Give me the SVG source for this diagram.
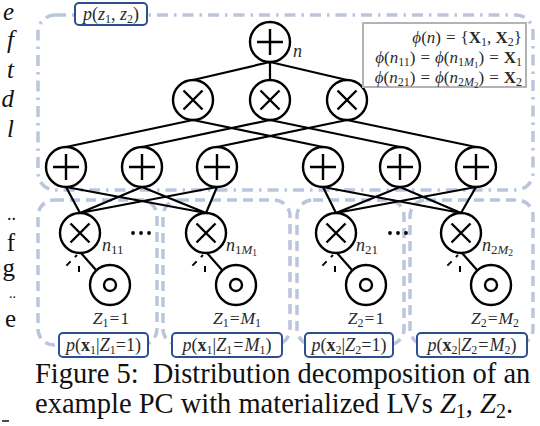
<svg xmlns="http://www.w3.org/2000/svg" width="540" height="426" viewBox="0 0 540 426">
<style>
.reg{fill:none;stroke:#b9c6dd;stroke-width:3.5;stroke-dasharray:10 6}
.regt{fill:none;stroke:#b9c6dd;stroke-width:3.5;stroke-dasharray:11 6 2.5 6}
.nd{fill:#fff;stroke:#000;stroke-width:2.4}
.op{stroke:#000;stroke-width:2.4;fill:none}
.e{stroke:#000;stroke-width:2.2;fill:none}
.stub{stroke:#000;stroke-width:2;fill:none}
.lb{fill:#fff;stroke:#2d4f8e;stroke-width:2}
.m{font-family:"Liberation Serif","DejaVu Serif",serif;fill:#2a2a2a}
.cap{font-family:"Liberation Serif","DejaVu Serif",serif;font-size:28.5px;fill:#111}
.mg{font-family:"Liberation Serif","DejaVu Serif",serif;font-size:25px;fill:#111}
</style>
<defs>
<g id="plus"><circle class="nd" r="20"/><path class="op" d="M-13 0H13M0-13V13"/></g>
<g id="times"><circle class="nd" r="20"/><path class="op" d="M-9.5-9.5L9.5 9.5M9.5-9.5L-9.5 9.5"/></g>
<g id="leaf"><circle class="nd" r="20"/><circle class="nd" r="6" stroke-width="1.8"/></g>
</defs>

<!-- left margin fragments -->
<g id="margin" class="mg">
<text x="14" y="20" text-anchor="end" font-style="italic">e</text>
<text x="14" y="48" text-anchor="end" font-style="italic">f</text>
<text x="14" y="78" text-anchor="end" font-style="italic">t</text>
<text x="14" y="107" text-anchor="end" font-style="italic">d</text>
<text x="14" y="137" text-anchor="end" font-style="italic">l</text>
<text x="16" y="220" text-anchor="end" font-size="18">..</text>
<text x="15" y="251" text-anchor="end">f</text>
<text x="15" y="276" text-anchor="end">g</text>
<text x="16" y="298" text-anchor="end" font-size="14">..</text>
<text x="16" y="327" text-anchor="end">e</text>
<path d="M2 421H9" stroke="#111" stroke-width="1.5"/>
</g>

<!-- regions -->
<g id="regions">
<rect class="regt" x="38" y="15" width="495" height="175" rx="17"/>
<rect class="reg" x="38" y="200" width="119" height="145" rx="16"/>
<rect class="reg" x="163" y="200" width="127" height="145" rx="16"/>
<rect class="reg" x="297" y="200" width="107" height="145" rx="16"/>
<rect class="reg" x="410" y="200" width="123" height="145" rx="16"/>
</g>

<!-- connectors -->
<g id="connectors">
<path class="e" d="M270 62L193 80M270 62L270 80M270 62L347 80"/>
<path class="e" d="M193 120L66 147M193 120L323 147M270 120L142 147M270 120L400 147M347 120L217 147M347 120L476 147"/>
<path class="e" d="M66 187L80 213M66 187L206 213M142 187L80 213M142 187L206 213M217 187L80 213M217 187L206 213"/>
<path class="e" d="M323 187L336 213M323 187L461 213M400 187L336 213M400 187L461 213M476 187L336 213M476 187L461 213"/>
<path class="e" d="M96 270L81 253M222 270L207 253M352 270L337 253M477 270L462 253"/>
<g class="stub">
<path d="M77 255L62 270" stroke-dasharray="3 6 6 20"/><path d="M79 255V272" stroke-dasharray="0 11 6 20"/>
<path d="M203 255L188 270" stroke-dasharray="3 6 6 20"/><path d="M205 255V272" stroke-dasharray="0 11 6 20"/>
<path d="M333 255L318 270" stroke-dasharray="3 6 6 20"/><path d="M335 255V272" stroke-dasharray="0 11 6 20"/>
<path d="M458 255L443 270" stroke-dasharray="3 6 6 20"/><path d="M460 255V272" stroke-dasharray="0 11 6 20"/>
</g>
</g>

<!-- nodes -->
<g id="n_root"><use href="#plus" x="270" y="42"/><text class="m" x="293" y="57" font-size="18" font-style="italic" fill="#444">n</text></g>
<g id="p1"><use href="#times" x="193" y="100"/></g>
<g id="p2"><use href="#times" x="270" y="100"/></g>
<g id="p3"><use href="#times" x="347" y="100"/></g>
<g id="s1"><use href="#plus" x="66" y="167"/></g>
<g id="s2"><use href="#plus" x="142" y="167"/></g>
<g id="s3"><use href="#plus" x="217" y="167"/></g>
<g id="s4"><use href="#plus" x="323" y="167"/></g>
<g id="s5"><use href="#plus" x="400" y="167"/></g>
<g id="s6"><use href="#plus" x="476" y="167"/></g>
<g id="n11"><use href="#times" x="80" y="233"/><text class="m" x="102" y="251" font-size="18" fill="#444"><tspan font-style="italic">n</tspan><tspan font-size="13" dy="3">11</tspan></text></g>
<g id="n1M1"><use href="#times" x="206" y="233"/><text class="m" x="226" y="251" font-size="18" fill="#444"><tspan font-style="italic">n</tspan><tspan font-size="13" dy="3">1</tspan><tspan font-size="13" font-style="italic">M</tspan><tspan font-size="9.5" dy="2">1</tspan></text></g>
<g id="n21"><use href="#times" x="336" y="233"/><text class="m" x="356" y="251" font-size="18" fill="#444"><tspan font-style="italic">n</tspan><tspan font-size="13" dy="3">21</tspan></text></g>
<g id="n2M2"><use href="#times" x="461" y="233"/><text class="m" x="482" y="251" font-size="18" fill="#444"><tspan font-style="italic">n</tspan><tspan font-size="13" dy="3">2</tspan><tspan font-size="13" font-style="italic">M</tspan><tspan font-size="9.5" dy="2">2</tspan></text></g>
<g id="dots1" fill="#000"><circle cx="133" cy="233" r="1.9"/><circle cx="141" cy="233" r="1.9"/><circle cx="149" cy="233" r="1.9"/></g>
<g id="dots2" fill="#000"><circle cx="390" cy="233" r="1.9"/><circle cx="398" cy="233" r="1.9"/><circle cx="406" cy="233" r="1.9"/></g>
<g id="leaf1"><use href="#leaf" x="110" y="285"/><text class="m" x="111" y="324" font-size="17.5" text-anchor="middle" fill="#555"><tspan font-style="italic">Z</tspan><tspan font-size="12" dy="3">1</tspan><tspan dy="-3" dx="1">=</tspan><tspan dx="1">1</tspan></text></g>
<g id="leaf2"><use href="#leaf" x="236" y="285"/><text class="m" x="237" y="324" font-size="17.5" text-anchor="middle" fill="#555"><tspan font-style="italic">Z</tspan><tspan font-size="12" dy="3">1</tspan><tspan dy="-3" dx="1">=</tspan><tspan font-style="italic" dx="1">M</tspan><tspan font-size="12" dy="3">1</tspan></text></g>
<g id="leaf3"><use href="#leaf" x="366" y="285"/><text class="m" x="366" y="324" font-size="17.5" text-anchor="middle" fill="#555"><tspan font-style="italic">Z</tspan><tspan font-size="12" dy="3">2</tspan><tspan dy="-3" dx="1">=</tspan><tspan dx="1">1</tspan></text></g>
<g id="leaf4"><use href="#leaf" x="491" y="285"/><text class="m" x="495" y="324" font-size="17.5" text-anchor="middle" fill="#555"><tspan font-style="italic">Z</tspan><tspan font-size="12" dy="3">2</tspan><tspan dy="-3" dx="1">=</tspan><tspan font-style="italic" dx="1">M</tspan><tspan font-size="12" dy="3">2</tspan></text></g>

<!-- labels -->
<g id="lab_top"><rect class="lb" x="75" y="3" width="72" height="22" rx="4"/><text class="m" x="111" y="19.5" font-size="18" text-anchor="middle"><tspan font-style="italic">p</tspan>(<tspan font-style="italic">z</tspan><tspan font-size="12" dy="3">1</tspan><tspan dy="-3">, </tspan><tspan font-style="italic">z</tspan><tspan font-size="12" dy="3">2</tspan><tspan dy="-3">)</tspan></text></g>
<g id="lab1"><rect class="lb" x="59" y="333" width="89" height="24" rx="4"/><text class="m" x="103.5" y="351" font-size="18" text-anchor="middle"><tspan font-style="italic">p</tspan>(<tspan font-weight="bold">x</tspan><tspan font-size="12" dy="3">1</tspan><tspan dy="-3">|</tspan><tspan font-style="italic">Z</tspan><tspan font-size="12" dy="3">1</tspan><tspan dy="-3">=1)</tspan></text></g>
<g id="lab2"><rect class="lb" x="172" y="333" width="110" height="24" rx="4"/><text class="m" x="227" y="351" font-size="18" text-anchor="middle"><tspan font-style="italic">p</tspan>(<tspan font-weight="bold">x</tspan><tspan font-size="12" dy="3">1</tspan><tspan dy="-3">|</tspan><tspan font-style="italic">Z</tspan><tspan font-size="12" dy="3">1</tspan><tspan dy="-3" dx="1">=</tspan><tspan font-style="italic" dx="1">M</tspan><tspan font-size="12" dy="3">1</tspan><tspan dy="-3">)</tspan></text></g>
<g id="lab3"><rect class="lb" x="305" y="333" width="88" height="24" rx="4"/><text class="m" x="349" y="351" font-size="18" text-anchor="middle"><tspan font-style="italic">p</tspan>(<tspan font-weight="bold">x</tspan><tspan font-size="12" dy="3">2</tspan><tspan dy="-3">|</tspan><tspan font-style="italic">Z</tspan><tspan font-size="12" dy="3">2</tspan><tspan dy="-3">=1)</tspan></text></g>
<g id="lab4"><rect class="lb" x="417" y="333" width="110" height="24" rx="4"/><text class="m" x="472" y="351" font-size="18" text-anchor="middle"><tspan font-style="italic">p</tspan>(<tspan font-weight="bold">x</tspan><tspan font-size="12" dy="3">2</tspan><tspan dy="-3">|</tspan><tspan font-style="italic">Z</tspan><tspan font-size="12" dy="3">2</tspan><tspan dy="-3" dx="1">=</tspan><tspan font-style="italic" dx="1">M</tspan><tspan font-size="12" dy="3">2</tspan><tspan dy="-3">)</tspan></text></g>

<!-- phi legend -->
<g id="legend">
<rect x="363" y="23" width="163" height="64" fill="#fff" stroke="#b3b3b3" stroke-width="2"/>
<text class="m" x="522" y="43" font-size="17" text-anchor="end" fill="#222"><tspan font-style="italic">ϕ</tspan>(<tspan font-style="italic">n</tspan>)<tspan dx="5">=</tspan><tspan dx="5">{</tspan><tspan font-weight="bold">X</tspan><tspan font-size="12" dy="3">1</tspan><tspan dy="-3">, </tspan><tspan font-weight="bold">X</tspan><tspan font-size="12" dy="3">2</tspan><tspan dy="-3">}</tspan></text>
<text class="m" x="522" y="63" font-size="17" text-anchor="end" fill="#222"><tspan font-style="italic">ϕ</tspan>(<tspan font-style="italic">n</tspan><tspan font-size="12" dy="3">11</tspan><tspan dy="-3">)</tspan><tspan dx="5">=</tspan><tspan dx="5" font-style="italic">ϕ</tspan>(<tspan font-style="italic">n</tspan><tspan font-size="12" dy="3">1</tspan><tspan font-size="12" font-style="italic">M</tspan><tspan font-size="9" dy="2">1</tspan><tspan dy="-5">)</tspan><tspan dx="5">=</tspan><tspan dx="5" font-weight="bold">X</tspan><tspan font-size="12" dy="3">1</tspan></text>
<text class="m" x="522" y="83" font-size="17" text-anchor="end" fill="#222"><tspan font-style="italic">ϕ</tspan>(<tspan font-style="italic">n</tspan><tspan font-size="12" dy="3">21</tspan><tspan dy="-3">)</tspan><tspan dx="5">=</tspan><tspan dx="5" font-style="italic">ϕ</tspan>(<tspan font-style="italic">n</tspan><tspan font-size="12" dy="3">2</tspan><tspan font-size="12" font-style="italic">M</tspan><tspan font-size="9" dy="2">2</tspan><tspan dy="-5">)</tspan><tspan dx="5">=</tspan><tspan dx="5" font-weight="bold">X</tspan><tspan font-size="12" dy="3">2</tspan></text>
</g>

<!-- caption -->
<g id="caption" class="cap">
<text x="35" y="383">Figure 5:<tspan dx="14">Distribution decomposition of an</tspan></text>
<text x="35" y="413">example PC with materialized LVs <tspan font-style="italic">Z</tspan><tspan font-size="20" dy="5">1</tspan><tspan dy="-5">, </tspan><tspan font-style="italic">Z</tspan><tspan font-size="20" dy="5">2</tspan><tspan dy="-5">.</tspan></text>
</g>
</svg>
